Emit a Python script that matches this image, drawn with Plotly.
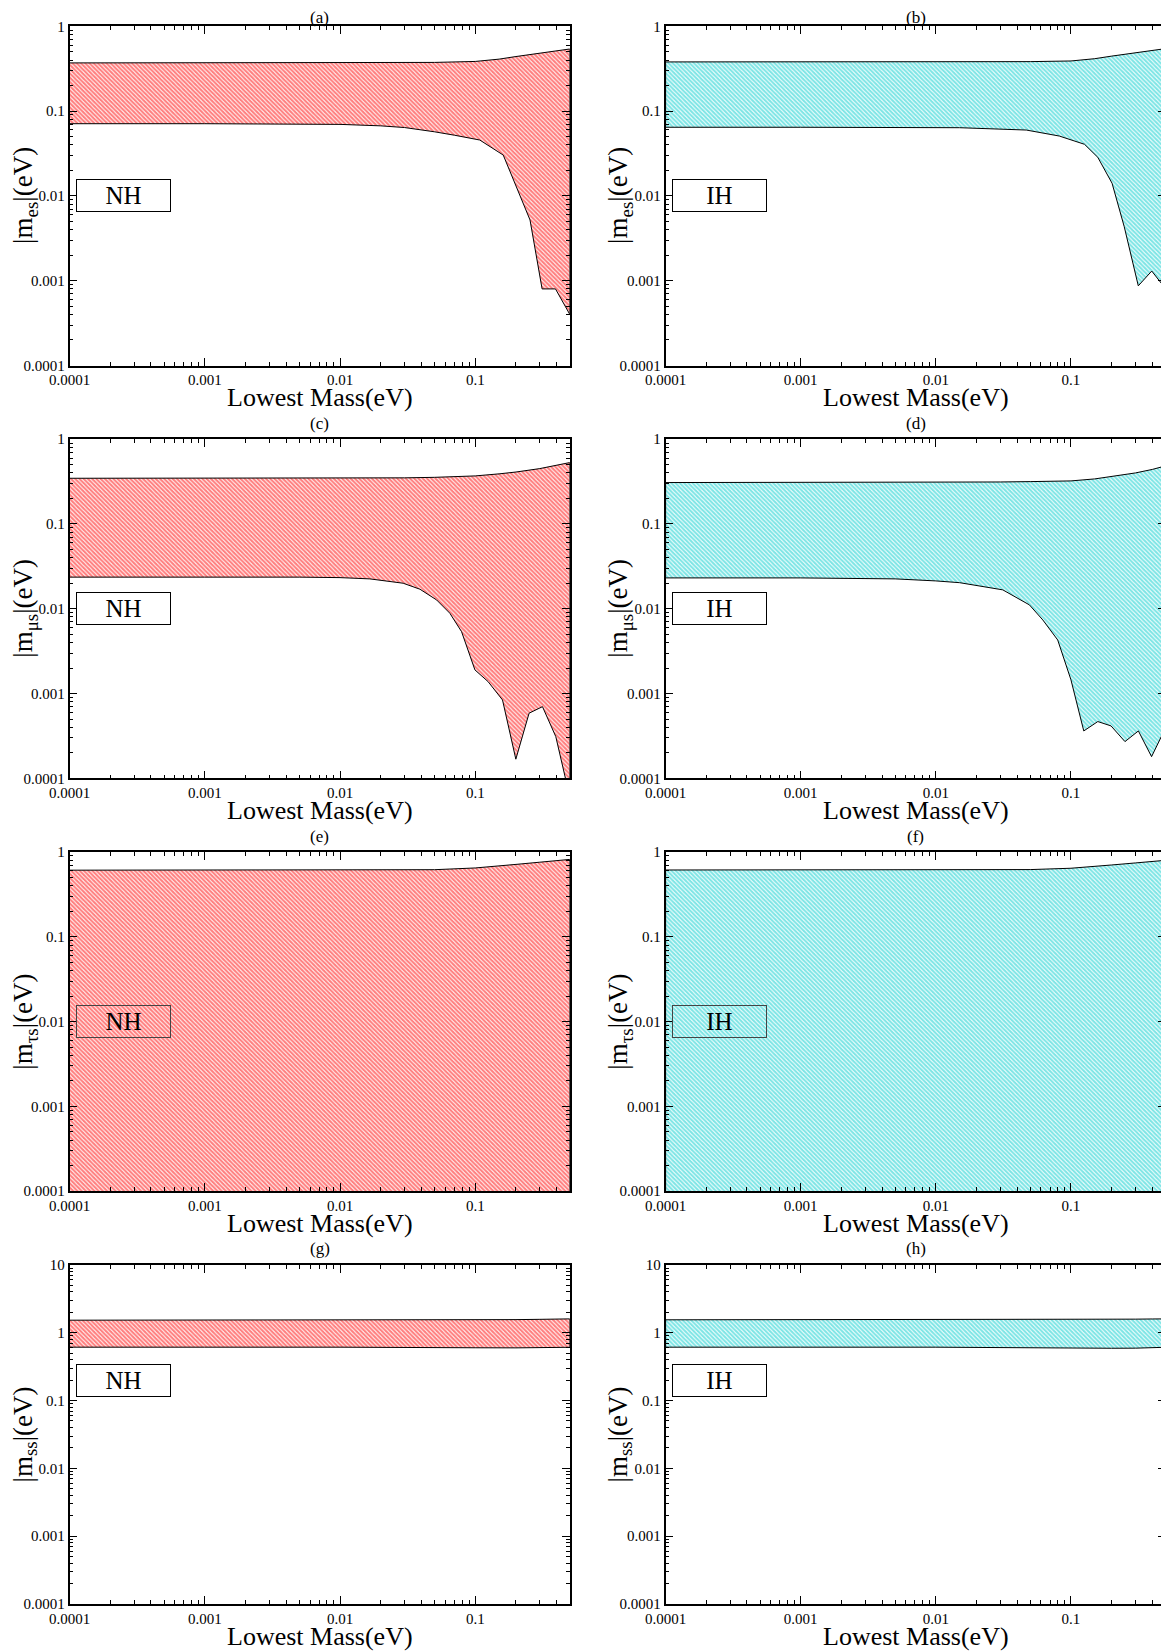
import plotly.graph_objects as go

# ---------------- data ----------------
upper_x = [1e-4, 1e-3, 1e-2, 0.03, 0.05, 0.1, 0.15, 0.2, 0.3, 0.4, 0.5]

# (a) NH |m_es|
a_upper_y = [0.37, 0.37, 0.37, 0.372, 0.375, 0.385, 0.41, 0.44, 0.48, 0.51, 0.54]
a_lower_x = [1e-4, 1e-3, 0.005, 0.01, 0.02, 0.03, 0.05, 0.07, 0.108, 0.125, 0.161, 0.254, 0.312, 0.392, 0.5]
a_lower_y = [0.071, 0.071, 0.0705, 0.0697, 0.067, 0.064, 0.057, 0.052, 0.0456, 0.039, 0.0303, 0.0052, 0.0008, 0.0008, 0.0004]

# (b) IH |m_es|
b_upper_y = [0.38, 0.38, 0.38, 0.381, 0.383, 0.39, 0.415, 0.445, 0.485, 0.515, 0.545]
b_lower_x = [1e-4, 1e-3, 0.015, 0.0467, 0.082, 0.126, 0.158, 0.2015, 0.248, 0.315, 0.396, 0.5]
b_lower_y = [0.0645, 0.0645, 0.0637, 0.0598, 0.0508, 0.0406, 0.0285, 0.0141, 0.00433, 0.00087, 0.0013, 0.00081]

# (c) NH |m_mu s|
c_upper_y = [0.346, 0.346, 0.347, 0.35, 0.355, 0.369, 0.39, 0.41, 0.45, 0.49, 0.53]
c_lower_x = [1e-4, 1e-3, 0.005, 0.01, 0.0166, 0.0293, 0.039, 0.0518, 0.0649, 0.0792, 0.0994, 0.1245, 0.159, 0.1995, 0.25, 0.314, 0.394, 0.459, 0.5]
c_lower_y = [0.0236, 0.0236, 0.0236, 0.0233, 0.0225, 0.020, 0.017, 0.0127, 0.00885, 0.00537, 0.0019, 0.00138, 0.00084, 0.000168, 0.000586, 0.0007, 0.00031, 0.000105, 0.00006]

# (d) IH |m_mu s|
d_upper_y = [0.308, 0.308, 0.31, 0.313, 0.316, 0.322, 0.34, 0.362, 0.40, 0.44, 0.484]
d_lower_x = [1e-4, 1e-3, 0.005, 0.01, 0.015, 0.0313, 0.0493, 0.0619, 0.0798, 0.1, 0.1244, 0.158, 0.198, 0.251, 0.3155, 0.395, 0.5]
d_lower_y = [0.0231, 0.0231, 0.0225, 0.0213, 0.0203, 0.0167, 0.0111, 0.00738, 0.00428, 0.00145, 0.000362, 0.000467, 0.000415, 0.000271, 0.000362, 0.00018, 0.00039]

# (e) NH |m_tau s|  (lower bound below the plotted range)
e_upper_y = [0.612, 0.612, 0.613, 0.615, 0.62, 0.65, 0.68, 0.716, 0.76, 0.79, 0.82]
e_lower_x = [1e-4, 0.5]
e_lower_y = [1e-5, 1e-5]

# (f) IH |m_tau s|
f_upper_y = [0.615, 0.615, 0.616, 0.618, 0.622, 0.645, 0.675, 0.705, 0.745, 0.775, 0.80]
f_lower_x = [1e-4, 0.5]
f_lower_y = [1e-5, 1e-5]

# (g) NH |m_ss|
g_upper_y = [1.53, 1.53, 1.53, 1.53, 1.535, 1.54, 1.55, 1.56, 1.575, 1.59, 1.60]
g_lower_x = [1e-4, 1e-3, 0.01, 0.03, 0.05, 0.1, 0.2, 0.3, 0.4, 0.5]
g_lower_y = [0.612, 0.612, 0.612, 0.61, 0.605, 0.60, 0.598, 0.60, 0.605, 0.61]

# (h) IH |m_ss|
h_upper_y = [1.55, 1.55, 1.55, 1.55, 1.552, 1.555, 1.565, 1.575, 1.585, 1.595, 1.60]
h_lower_x = [1e-4, 1e-3, 0.01, 0.03, 0.05, 0.1, 0.2, 0.3, 0.4, 0.5]
h_lower_y = [0.612, 0.612, 0.612, 0.61, 0.603, 0.595, 0.59, 0.592, 0.60, 0.61]

panel_letters = ["(a)", "(b)", "(c)", "(d)", "(e)", "(f)", "(g)", "(h)"]
hierarchy = ["NH", "IH", "NH", "IH", "NH", "IH", "NH", "IH"]
y_titles = ["|m<sub>es</sub>|(eV)", "|m<sub>es</sub>|(eV)",
            "|m<sub>μs</sub>|(eV)", "|m<sub>μs</sub>|(eV)",
            "|m<sub>τs</sub>|(eV)", "|m<sub>τs</sub>|(eV)",
            "|m<sub>ss</sub>|(eV)", "|m<sub>ss</sub>|(eV)"]
x_title = "Lowest Mass(eV)"
x_tickvals = [1e-4, 1e-3, 1e-2, 1e-1]
x_ticktext = ["0.0001", "0.001", "0.01", "0.1"]
y_tickvals_a = [1e-4, 1e-3, 1e-2, 1e-1, 1]
y_ticktext_a = ["0.0001", "0.001", "0.01", "0.1", "1"]
y_tickvals_b = [1e-4, 1e-3, 1e-2, 1e-1, 1, 10]
y_ticktext_b = ["0.0001", "0.001", "0.01", "0.1", "1", "10"]

uppers = [a_upper_y, b_upper_y, c_upper_y, d_upper_y, e_upper_y, f_upper_y, g_upper_y, h_upper_y]
lowers_x = [a_lower_x, b_lower_x, c_lower_x, d_lower_x, e_lower_x, f_lower_x, g_lower_x, h_lower_x]
lowers_y = [a_lower_y, b_lower_y, c_lower_y, d_lower_y, e_lower_y, f_lower_y, g_lower_y, h_lower_y]

# ---------------- layout geometry ----------------
W, H = 1169, 1652
OFF = 8                      # default body margin of the html page (figure starts at 8,8)
col_px = [(69.5, 569.8), (665.6, 1165.4)]          # target page pixels
row_px = [(26.3, 365.5), (439.2, 778.3), (852.1, 1191.2), (1264.9, 1604.0)]
FONT = "Liberation Serif, Times New Roman, serif"
RED = "#FF0000"
CYAN = "#00CCCC"


def px(xp):
    return (xp - OFF) / W


def py(yp):
    return 1 - (yp - OFF) / H


minor_vals = [k * 10.0 ** e for e in range(-5, 2) for k in range(2, 10)]

fig = go.Figure()
annotations = []

for i in range(8):
    r, c = divmod(i, 2)
    sfx = "" if i == 0 else str(i + 1)
    xa, ya = "x" + sfx, "y" + sfx
    color = RED if c == 0 else CYAN
    poly_x = list(upper_x) + list(reversed(lowers_x[i]))
    poly_y = list(uppers[i]) + list(reversed(lowers_y[i]))
    poly_x.append(upper_x[0])
    poly_y.append(uppers[i][0])
    fig.add_trace(go.Scatter(
        x=poly_x, y=poly_y, mode="lines", fill="toself",
        line=dict(color="black", width=1),
        fillcolor="rgba(0,0,0,0)",
        fillpattern=dict(shape="\\", fgcolor=color, bgcolor="white", size=3, solidity=0.7),
        xaxis=xa, yaxis=ya, showlegend=False, hoverinfo="skip"))

    x0, x1 = col_px[c]
    t, b = row_px[r]
    xd = [px(x0), px(x1)]
    yd = [py(b), py(t)]
    last = (r == 3)
    ax_common = dict(type="log", showline=True, linecolor="black", linewidth=1.5,
                     mirror="allticks", ticks="inside", ticklen=8, tickwidth=1,
                     tickcolor="black", showgrid=False, zeroline=False, automargin=False,
                     tickfont=dict(family=FONT, size=15, color="black"),
                     minor=dict(ticks="inside", ticklen=4, tickwidth=1, tickcolor="black",
                                tickmode="array", tickvals=minor_vals, showgrid=False))
    fig.layout["xaxis" + sfx] = dict(ax_common, domain=xd, anchor=ya,
                                     range=[-4, -0.30103],
                                     tickmode="array", tickvals=x_tickvals, ticktext=x_ticktext)
    fig.layout["yaxis" + sfx] = dict(ax_common, domain=yd, anchor=xa,
                                     range=[-4, 1] if last else [-4, 0],
                                     tickmode="array",
                                     tickvals=y_tickvals_b if last else y_tickvals_a,
                                     ticktext=y_ticktext_b if last else y_ticktext_a)

    cx = px((x0 + x1) / 2)
    # panel letter (first row kept inside the figure)
    ly = t - 16 if r > 0 else 17
    annotations.append(dict(text=panel_letters[i], x=cx, y=py(ly),
                            xref="paper", yref="paper", showarrow=False,
                            xanchor="center", yanchor="middle",
                            font=dict(family=FONT, size=17, color="black")))
    # x title
    annotations.append(dict(text=x_title, x=cx, y=py(b + 32),
                            xref="paper", yref="paper", showarrow=False,
                            xanchor="center", yanchor="middle",
                            font=dict(family=FONT, size=26, color="black")))
    # y title
    ytx = 25 if c == 0 else 620
    annotations.append(dict(text=y_titles[i], x=px(ytx), y=py((t + b) / 2),
                            xref="paper", yref="paper", showarrow=False,
                            textangle=-90, xanchor="center", yanchor="middle",
                            font=dict(family=FONT, size=27, color="black")))
    # NH / IH box
    box_y = 0.5 if r < 3 else 0.66
    filled = (r != 2)
    annotations.append(dict(text=hierarchy[i], x=0.107, y=box_y,
                            xref=xa + " domain", yref=ya + " domain", showarrow=False,
                            xanchor="center", yanchor="middle",
                            width=93, height=31, borderpad=0,
                            bgcolor="white" if filled else "rgba(0,0,0,0)",
                            bordercolor="black" if filled else "#444444", borderwidth=1,
                            font=dict(family=FONT, size=25, color="black")))

fig.update_layout(width=W, height=H, margin=dict(l=0, r=0, t=0, b=0, autoexpand=False),
                  plot_bgcolor="white", paper_bgcolor="white",
                  annotations=annotations, showlegend=False)

fig.write_html("out.html")
